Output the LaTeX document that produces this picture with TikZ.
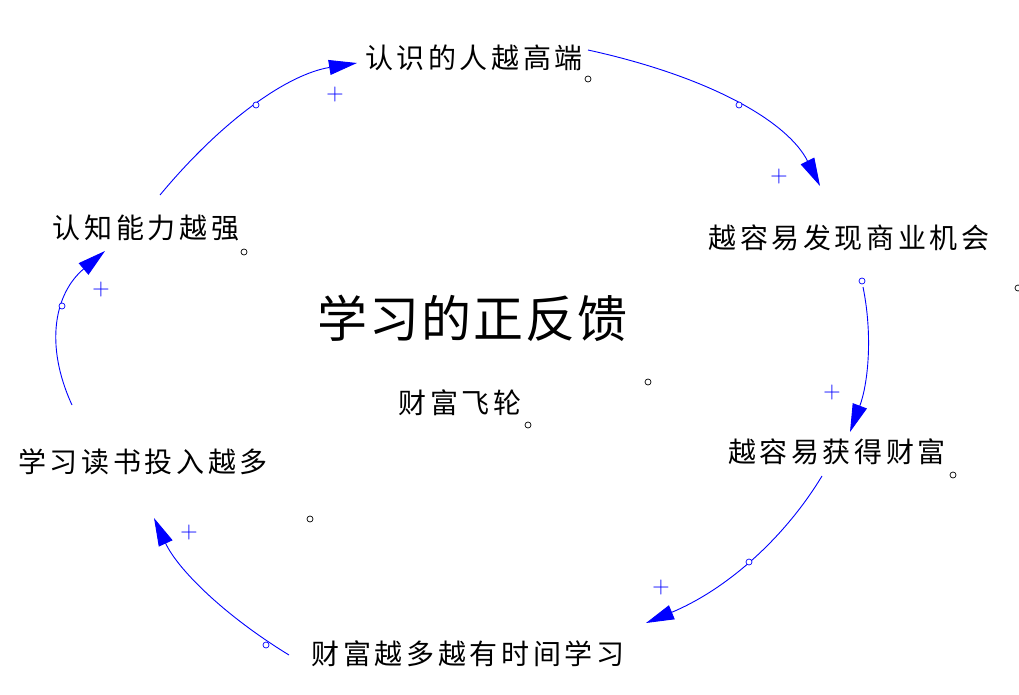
\documentclass[tikz,border=0pt]{standalone}
\usepackage{fontspec}
\usetikzlibrary{arrows.meta,calc}
\newfontfamily\cjk[LetterSpace=13]{Noto Sans CJK SC}
\newfontfamily\cjktitle[LetterSpace=4]{Noto Sans CJK SC}
\begin{document}
\begin{tikzpicture}[x=1pt,y=-1pt,
  var/.style={font=\cjk\fontsize{28pt}{30pt}\selectfont, text=black, inner sep=0pt},
  titlebox/.style={font=\cjktitle\fontsize{50pt}{52pt}\selectfont, text=black, inner sep=0pt},
  link/.style={draw=blue, line width=0.9pt, -{Triangle[length=28pt,width=15pt]}, fill=none},
  pol/.style={text=blue, font=\fontsize{24pt}{24pt}\selectfont, inner sep=0pt},
  handle/.style={draw=black, line width=0.7pt, fill=white},
  bhandle/.style={draw=blue, line width=0.7pt, fill=white}]
\useasboundingbox[fill=white] (0,0) rectangle (1019,695);

% variables
\node[var] (ppl)   at (474,58)  {认识的人越高端};
\node[var] (cog)   at (146,228) {认知能力越强};
\node[var] (biz)   at (849,238) {越容易发现商业机会};
\node[var] (get)   at (837,452) {越容易获得财富};
\node[var] (learn) at (143,462) {学习读书投入越多};
\node[var] (time)  at (468,654) {财富越多越有时间学习};
\node[titlebox] (title) at (472,318) {学习的正反馈};
\node[var] (fly)   at (460,403) {财富飞轮};

% causal links
\draw[link] ($(cog)+(14,-33)$) .. controls (224,118) and (289,74) .. ($(ppl)+(-117,5)$);
\draw[link] ($(ppl)+(114,-8)$) .. controls (711,77) and (788,122) .. ($(biz)+(-29,-52)$);
\draw[link] ($(biz)+(14,49)$) .. controls (873,336) and (868,384) .. ($(get)+(13,-20)$);
\draw[link] ($(get)+(-15,24)$) .. controls (782,542) and (723,591) .. ($(time)+(178,-31)$);
\draw[link] ($(time)+(-179,1)$) .. controls (222,614) and (177,568) .. ($(learn)+(11,56)$);
\draw[link] ($(learn)+(-71,-57)$) .. controls (44,344) and (55,293) .. ($(cog)+(-41,23)$);

% polarity signs
\node[pol] (p1) at (335,95)  {+};
\node[pol] (p2) at (779,177) {+};
\node[pol] (p3) at (832,393) {+};
\node[pol] (p4) at (661,588) {+};
\node[pol] (p5) at (189,533) {+};
\node[pol] (p6) at (101,290) {+};

% link handles
\draw[bhandle] (256,105) circle[radius=3pt];
\draw[bhandle] (739,105) circle[radius=3pt];
\draw[bhandle] (862,281) circle[radius=3pt];
\draw[bhandle] (749,562) circle[radius=3pt];
\draw[bhandle] (266,645) circle[radius=3pt];
\draw[bhandle] (62,306) circle[radius=3pt];

% variable handles
\draw[handle] (588,79) circle[radius=3pt];
\draw[handle] (244,252) circle[radius=3pt];
\draw[handle] (1018,288) circle[radius=3pt];
\draw[handle] (648,382) circle[radius=3pt];
\draw[handle] (528,425) circle[radius=3pt];
\draw[handle] (953,475) circle[radius=3pt];
\draw[handle] (310,519) circle[radius=3pt];
\end{tikzpicture}
\end{document}
